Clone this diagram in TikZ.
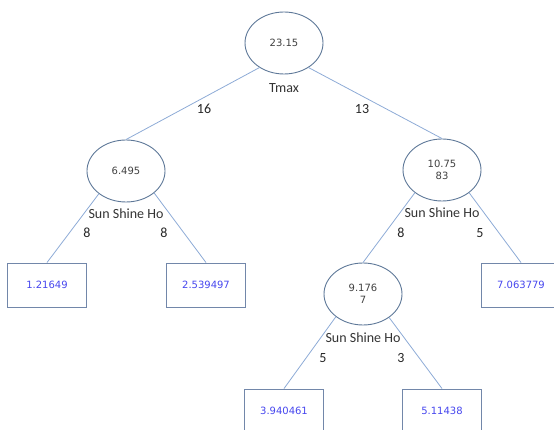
\documentclass[tikz,border=0pt]{standalone}
\usepackage{fontspec}
\setmainfont{DejaVu Sans}
\newfontfamily\labelfont{Carlito}
\usetikzlibrary{positioning,shapes.geometric}

\definecolor{edgeblue}{HTML}{8DABD6}
\definecolor{ringgray}{HTML}{5E7898}
\definecolor{boxgray}{HTML}{7287AA}
\definecolor{leafblue}{HTML}{4646EE}

\begin{document}
\begin{tikzpicture}[x=1pt,y=-1pt,
                    every node/.style={font=\fontsize{10}{12.5}\selectfont},
                    split/.style={draw=ringgray,ellipse,line width=0.9pt,
                                  minimum width=78pt,minimum height=62pt,inner sep=0pt,
                                  align=center,text=black!75},
                    leaf/.style={draw=boxgray,rectangle,line width=0.9pt,
                                 minimum width=79pt,minimum height=44pt,text=leafblue},
                    branch/.style={draw=edgeblue,line width=0.8pt},
                    attr/.style={font=\labelfont\fontsize{14}{16}\selectfont,
                                 text=black!80,inner sep=0pt},
                    count/.style={font=\labelfont\fontsize{14}{16}\selectfont,
                                  text=black!85,inner sep=0pt}]
  \useasboundingbox (0,0) rectangle (554,430);
  \clip (0,0) rectangle (554,430);

  % split nodes
  \node[split] (root) at (284,43)  {23.15};
  \node[split] (lc)   at (126,171) {6.495};
  \node[split] (rc)   at (442,170) {10.75\\83};
  \node[split] (rlc)  at (363,294) {9.176\\7};

  % leaves
  \node[leaf] (l1) at (47,285)  {1.21649};
  \node[leaf] (l2) at (206,285) {2.539497};
  \node[leaf] (l3) at (521,285) {7.063779};
  \node[leaf] (l4) at (284,411) {3.940461};
  \node[leaf] (l5) at (442,411) {5.11438};

  \node[attr,below=9pt of root] (tmax) {Tmax};
  \node[attr,below=6pt of lc]   (ssh1) {Sun Shine Ho};
  \node[attr,below=6pt of rc]   (ssh2) {Sun Shine Ho};
  \node[attr,below=7pt of rlc]  (ssh3) {Sun Shine Ho};

  \draw[branch] (root.225) -- (lc.north);
  \draw[branch] (root.315) -- (rc.north);
  \draw[branch] (lc.220)   -- (l1.north);
  \draw[branch] (lc.322)   -- (l2.north);
  \draw[branch] (rc.220)   -- (rlc.north);
  \draw[branch] (rc.320)   -- (l3.north);
  \draw[branch] (rlc.220)  -- (l4.north);
  \draw[branch] (rlc.318)  -- (l5.north);

  % sample counts
  \node[count] (n16) at (204,109) {16};
  \node[count] (n13) at (362,109) {13};
  \node[count] (n8a) at (87,233)  {8};
  \node[count] (n8b) at (164,233) {8};
  \node[count] (n8c) at (401,233) {8};
  \node[count] (n5a) at (480,233) {5};
  \node[count] (n5b) at (323,358) {5};
  \node[count] (n3)  at (401,358) {3};
\end{tikzpicture}
\end{document}
